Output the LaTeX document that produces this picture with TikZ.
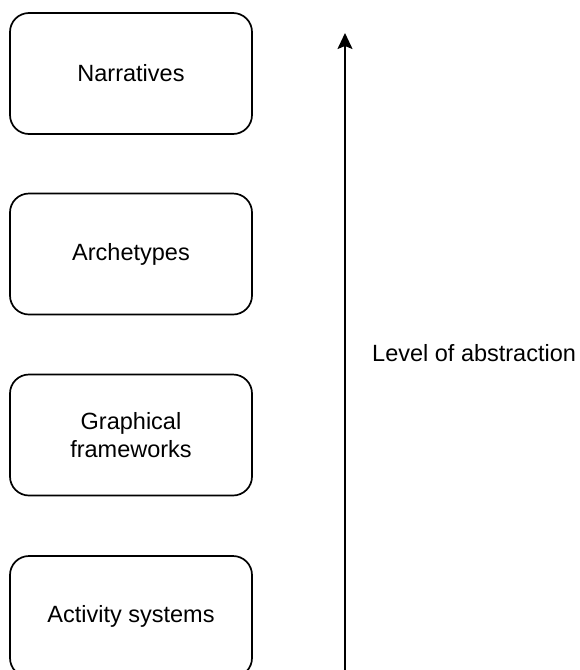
\documentclass[tikz,border=0pt]{standalone}
\usepackage{fontspec}
\setmainfont{Liberation Sans}
\usetikzlibrary{arrows.meta}
\begin{document}
\begin{tikzpicture}[x=1pt,y=-1pt,
  level/.style={draw=black, line width=1.7pt, rounded corners=19pt, minimum width=242pt, minimum height=121pt, align=center, font=\fontsize{23.5}{28}\selectfont, inner sep=0pt},
  axis/.style={line width=1.7pt, -{Stealth[length=16pt,width=15pt,inset=3pt]}},
  lbl/.style={anchor=west, font=\fontsize{23.5}{28}\selectfont, inner sep=0pt}]
\useasboundingbox (0,0) rectangle (579,670);
\node[level] (nar) at (131,73.5) {Narratives};
\node[level] (arc) at (131,254) {Archetypes};
\node[level] (gra) at (131,435) {Graphical\\frameworks};
\node[level] (act) at (131,616.5) {Activity systems};
\coordinate (abot) at (345,672);
\coordinate (atop) at (345,33);
\draw[axis] (abot) -- (atop);
\node[lbl] (lev) at (372,353) {Level of abstraction};
\end{tikzpicture}
\end{document}
